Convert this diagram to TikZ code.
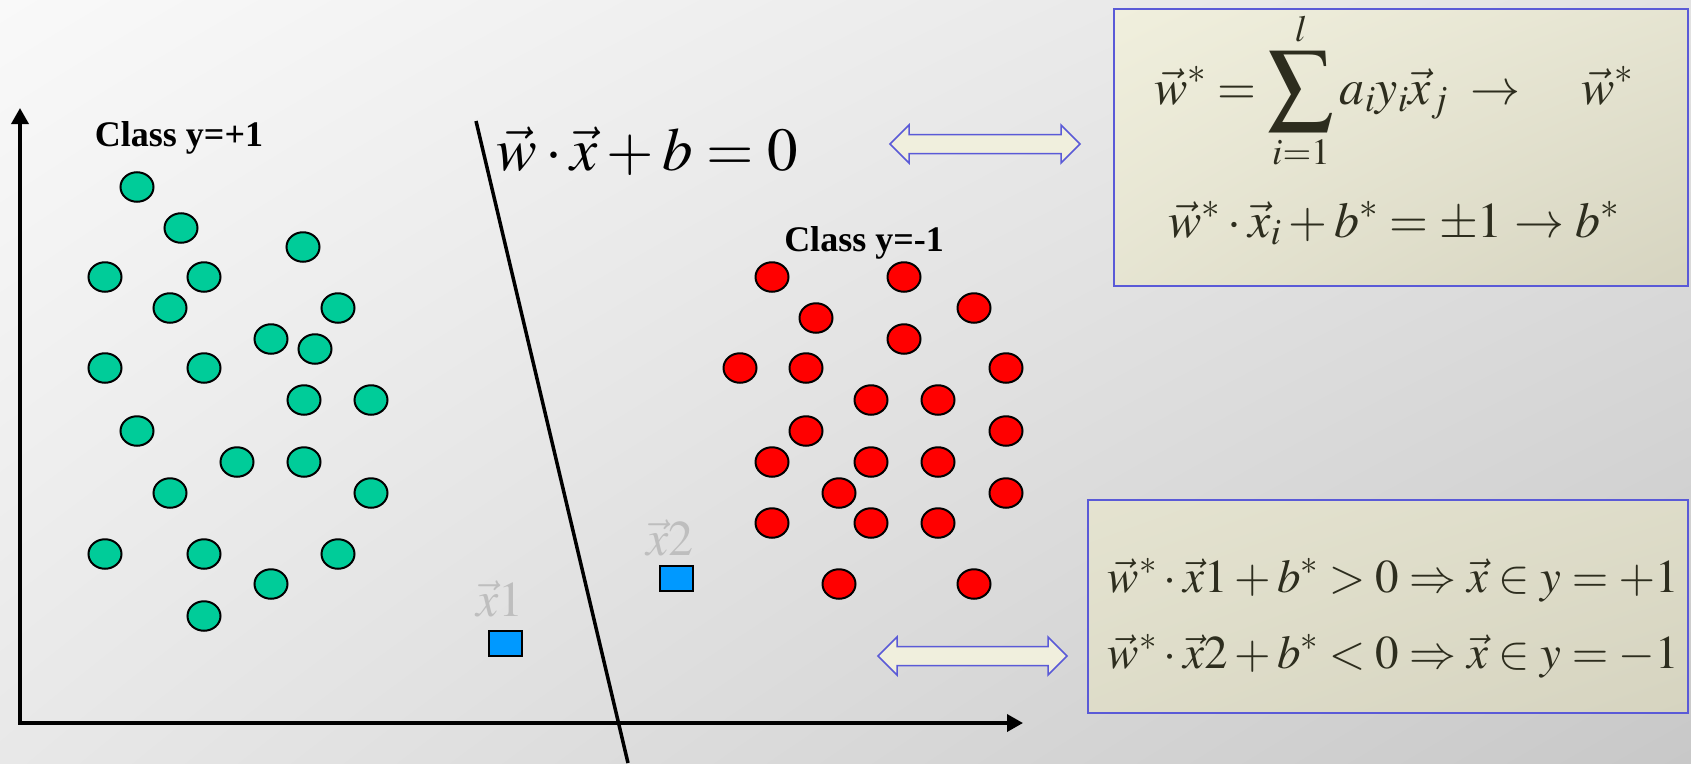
\documentclass[tikz,border=0pt]{standalone}
\usepackage{mathptmx}
\usepackage{graphicx}
\usepackage{fontspec}
\setmainfont{Liberation Serif}
\usetikzlibrary{arrows.meta,shapes.geometric,shadings}
\definecolor{bgtl}{RGB}{249,249,249}
\definecolor{bgtr}{RGB}{226,226,226}
\definecolor{bgbl}{RGB}{232,232,232}
\definecolor{bgbr}{RGB}{200,200,200}
\definecolor{plusgreen}{RGB}{0,204,153}
\definecolor{minusred}{RGB}{255,0,0}
\definecolor{testblue}{RGB}{0,153,255}
\definecolor{lblgray}{RGB}{190,190,190}
\definecolor{boxline}{RGB}{90,90,215}
\definecolor{creamtl}{RGB}{240,239,221}
\definecolor{creambr}{RGB}{214,212,192}
\definecolor{eqdark}{RGB}{45,45,30}
\newcommand{\bigsigma}{\mathop{\vcenter{\hbox{\scalebox{1.3}{$\displaystyle\sum$}}}}\limits}
\tikzset{
  pluspt/.style={ellipse,draw,line width=2pt,fill=plusgreen,minimum width=33pt,minimum height=29.5pt,inner sep=0pt},
  minuspt/.style={pluspt,fill=minusred},
  testpt/.style={rectangle,draw,line width=2pt,fill=testblue,minimum width=33pt,minimum height=25pt,inner sep=0pt},
  testlbl/.style={text=lblgray,font=\fontsize{50}{54}\selectfont,inner sep=0pt},
  classlbl/.style={font=\fontsize{36}{40}\selectfont\bfseries,inner sep=0pt},
  eqbox/.style={draw=boxline,line width=1.5pt},
  eqtext/.style={text=eqdark,inner sep=0pt},
  dblarrow/.style={draw=boxline,line width=1.5pt,fill=creamtl}
}
\begin{document}
\begin{tikzpicture}[x=1pt,y=-1pt,>={Triangle[length=16pt,width=17pt]}]
  \useasboundingbox (0,0) rectangle (1691,763);
  \shade[upper left=bgtl,upper right=bgtr,lower left=bgbl,lower right=bgbr] (0,0) rectangle (1691,763);
  % axes
  \coordinate (O) at (20,723);
  \coordinate (ytip) at (20,108);
  \coordinate (xtip) at (1023,723);
  \draw[line width=3.5pt,<->] (ytip) -- (O) -- (xtip);
  % separating hyperplane
  \coordinate (H1) at (476,121);
  \coordinate (H2) at (628,763);
  \draw[line width=3.5pt] (H1) -- (H2);
  \node[font=\fontsize{61}{65}\selectfont,inner sep=0pt] (hyp) at (647,151) {$\vec{w}\cdot\vec{x}+b=0$};
  % class +1
  \node[classlbl] (cplus) at (179,138) {Class y=+1};
  \foreach \x/\y [count=\i] in {137/187,181/228,303/247,105/277,204/277,170/308,338/308,271/339,315/349,
      105/368,204/368,304/400,371/400,137/431,237/462,304/462,170/493,371/493,105/554,204/554,338/554,271/584,204/616}
    \node[pluspt] (p\i) at (\x,\y) {};
  % class -1
  \node[classlbl] (cminus) at (864,243) {Class y=-1};
  \foreach \x/\y [count=\i] in {772/277,904/277,816/318,974/308,904/339,740/368,806/368,1006/368,871/400,938/400,
      806/431,1006/431,772/462,871/462,938/462,839/493,1006/493,772/523,871/523,938/523,839/584,974/584}
    \node[minuspt] (m\i) at (\x,\y) {};
  % test points
  \node[testpt] (t1) at (505,643.5) {};
  \node[testpt] (t2) at (676.5,578.5) {};
  \node[testlbl,anchor=base] (lt1) at (500,616) {$\vec{x}1$};
  \node[testlbl,anchor=base] (lt2) at (670,555) {$\vec{x}2$};
  % training box
  \shadedraw[eqbox,upper left=creamtl,upper right=creamtl!60!creambr,lower left=creamtl!60!creambr,lower right=creambr] (1114,9) rectangle (1688,286);
  \node[eqtext,anchor=base west,font=\fontsize{50}{54}\selectfont] (train1) at (1154,104)
    {$\displaystyle\vec{w}^{*}=\bigsigma_{i=1}^{l}a_i y_i\vec{x}_j\;\rightarrow\quad\vec{w}^{*}$};
  \node[eqtext,anchor=base west,font=\fontsize{50}{54}\selectfont] (train2) at (1168,237)
    {$\vec{w}^{*}\cdot\vec{x}_i+b^{*}=\pm1\rightarrow b^{*}$};
  % decision box
  \shadedraw[eqbox,upper left=creamtl!55!creambr,upper right=creamtl!30!creambr,lower left=creamtl!30!creambr,lower right=creambr] (1088,500) rectangle (1688,713);
  \node[eqtext,anchor=base east,font=\fontsize{47}{51}\selectfont] (dec1) at (1679,592)
    {$\vec{w}^{*}\cdot\vec{x}1+b^{*}>0\Rightarrow\vec{x}\in y=+1$};
  \node[eqtext,anchor=base east,font=\fontsize{47}{51}\selectfont] (dec2) at (1679,668)
    {$\vec{w}^{*}\cdot\vec{x}2+b^{*}<0\Rightarrow\vec{x}\in y=-1$};
  % double arrows
  \foreach \xa/\xb/\yc in {890/1080/144,878/1067/656}
    \draw[dblarrow] (\xa,\yc) -- (\xa+19,\yc-19) -- (\xa+19,\yc-9.5) -- (\xb-19,\yc-9.5) -- (\xb-19,\yc-19)
      -- (\xb,\yc) -- (\xb-19,\yc+19) -- (\xb-19,\yc+9.5) -- (\xa+19,\yc+9.5) -- (\xa+19,\yc+19) -- cycle;
\end{tikzpicture}
\end{document}
